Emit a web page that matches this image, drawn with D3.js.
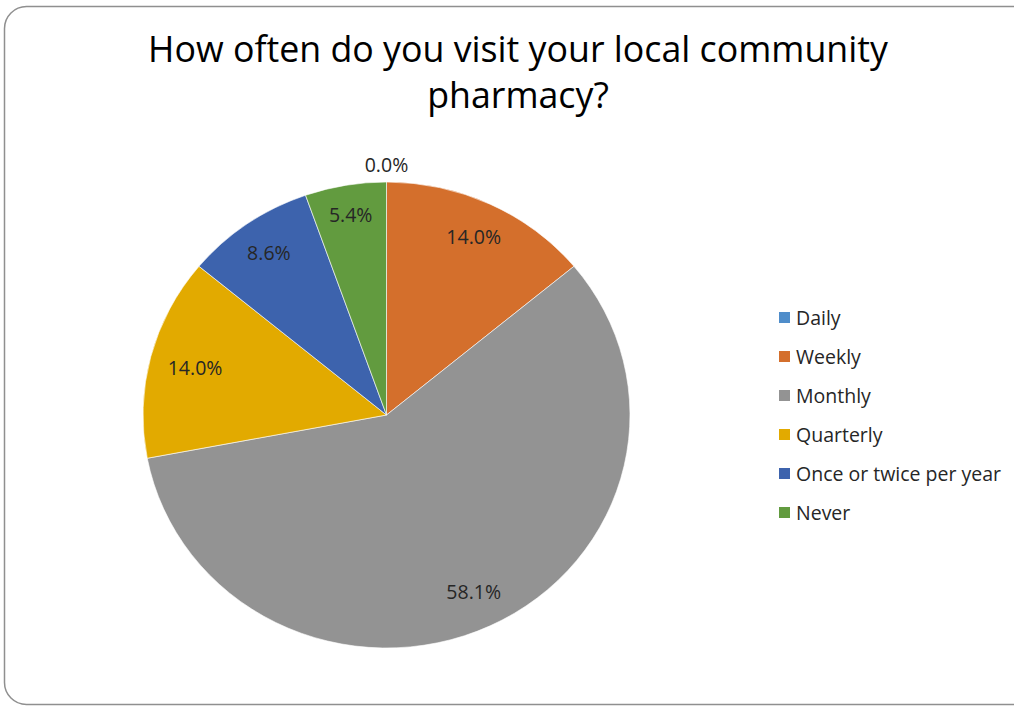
<!DOCTYPE html>
<html>
<head>
<meta charset="utf-8">
<script src="https://cdn.jsdelivr.net/npm/d3@7"></script>
<style>
  html, body { margin: 0; padding: 0; background: #fff; }
  svg { display: block; }
</style>
</head>
<body>
<svg id="chart" width="1014" height="706"></svg>
<script>
const categories = ["Daily", "Weekly", "Monthly", "Quarterly", "Once or twice per year", "Never"];
const values = [0.0, 14.0, 58.1, 14.0, 8.6, 5.4];
const colors = ["#4f8dca", "#d46f2c", "#939393", "#e2aa00", "#3d63ad", "#629b3f"];
const titleLines = ["How often do you visit your local community", "pharmacy?"];

const svg = d3.select("#chart");

// frame
svg.append("rect")
  .attr("x", 4.5).attr("y", 6.5)
  .attr("width", 1030).attr("height", 698)
  .attr("rx", 22).attr("ry", 22)
  .attr("fill", "#fff")
  .attr("stroke", "#8f8f8f").attr("stroke-width", 1.5);

// title
const font = "'Open Sans', 'Noto Sans', sans-serif";
const t1 = svg.append("text")
  .attr("x", 518).attr("y", 62)
  .attr("text-anchor", "middle")
  .attr("font-family", font).attr("font-size", 31)
  .attr("fill", "#000")
  .text(titleLines[0]);
const len = t1.node().getComputedTextLength();
const fs = 31 * 740 / len;
t1.attr("font-size", fs);
svg.append("text")
  .attr("x", 518).attr("y", 108)
  .attr("text-anchor", "middle")
  .attr("font-family", font).attr("font-size", fs)
  .attr("fill", "#000")
  .text(titleLines[1]);

// pie
const cx = 386.5, cy = 415, R = 233, sx = 1.045;
const pie = d3.pie().sort(null).value(d => d)(values);
const arc = d3.arc().innerRadius(0).outerRadius(R);
const g = svg.append("g").attr("transform", `translate(${cx},${cy}) scale(${sx},1)`);
g.selectAll("path").data(pie).join("path")
  .attr("d", arc)
  .attr("fill", (d, i) => colors[i])
  .attr("stroke", "#fff").attr("stroke-width", 0.6)
  .attr("vector-effect", "non-scaling-stroke");

// labels (inside-end style: far corner of label box sits just inside the rim)
const labelFs = 19.5;
const lab = svg.append("g").selectAll("text").data(pie).join("text")
  .attr("text-anchor", "middle")
  .attr("dy", "0.35em")
  .attr("font-family", font).attr("font-size", labelFs)
  .attr("fill", "#262626")
  .text(d => d.value.toFixed(1) + "%");
lab.each(function(d) {
  const w = this.getComputedTextLength(), h = labelFs;
  const a = (d.startAngle + d.endAngle) / 2;
  const ux = Math.sin(a), uy = -Math.cos(a);
  let x, y;
  if (d.value === 0) {
    const r = R + 17;
    x = cx + ux * r * sx; y = cy + uy * r;
  } else {
    const target = R - 16;
    let lo = 0, hi = R;
    for (let k = 0; k < 40; k++) {
      const t = (lo + hi) / 2;
      const px = ux * t * sx + Math.sign(ux) * w / 2;
      const py = uy * t + Math.sign(uy) * h / 2;
      const dist = Math.hypot(px / sx, py);
      if (dist > target) hi = t; else lo = t;
    }
    x = cx + ux * lo * sx; y = cy + uy * lo;
  }
  d3.select(this).attr("x", x).attr("y", y);
});

// legend
const ly = d3.scalePoint().domain(categories).range([318, 513]);
const lg = svg.append("g");
categories.forEach((c, i) => {
  lg.append("rect")
    .attr("x", 779).attr("y", ly(c) - 6)
    .attr("width", 11).attr("height", 11)
    .attr("fill", colors[i]);
  lg.append("text")
    .attr("x", 796).attr("y", ly(c))
    .attr("dy", "0.35em")
    .attr("font-family", font).attr("font-size", 19.5)
    .attr("fill", "#262626")
    .text(c);
});
</script>
</body>
</html>
